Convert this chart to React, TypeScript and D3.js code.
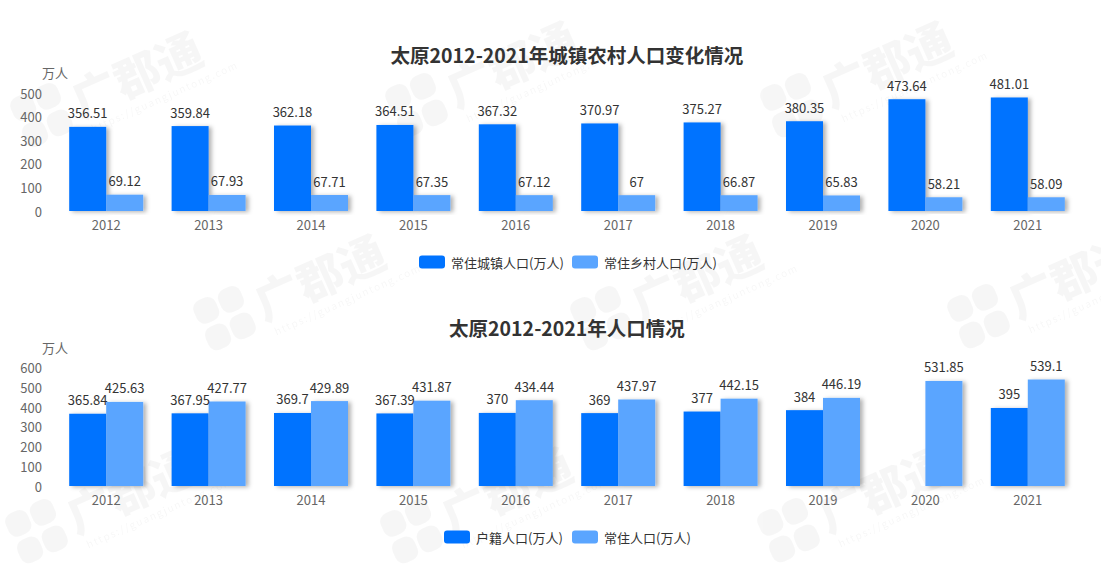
import React from "react";
import * as d3 from "d3";

const years = ["2012", "2013", "2014", "2015", "2016", "2017", "2018", "2019", "2020", "2021"];

const urbanPop = [356.51, 359.84, 362.18, 364.51, 367.32, 370.97, 375.27, 380.35, 473.64, 481.01];
const ruralPop = [69.12, 67.93, 67.71, 67.35, 67.12, 67, 66.87, 65.83, 58.21, 58.09];

const registeredPop: (number | null)[] = [365.84, 367.95, 369.7, 367.39, 370, 369, 377, 384, null, 395];
const residentPop = [425.63, 427.77, 429.89, 431.87, 434.44, 437.97, 442.15, 446.19, 531.85, 539.1];

const topTicks = [0, 100, 200, 300, 400, 500];
const bottomTicks = [0, 100, 200, 300, 400, 500, 600];

const topTitle = "太原2012-2021年城镇农村人口变化情况";
const bottomTitle = "太原2012-2021年人口情况";
const topLegend = ["常住城镇人口(万人)", "常住乡村人口(万人)"];
const bottomLegend = ["户籍人口(万人)", "常住人口(万人)"];
const unitLabel = "万人";

const DARK = "#0073ff";
const LIGHT = "#5aa5ff";
const FONT = "'Noto Sans CJK SC', 'Noto Sans', sans-serif";

const W = 1101;
const H = 568;
const X0 = 55;
const X1 = 1079;

const watermarkAnchors = [
  [30, 152], [405, 142], [780, 142],
  [213, 355], [590, 355], [967, 353],
  [25, 568], [400, 568], [777, 567],
];

function Watermark({ x, y }: { x: number; y: number }) {
  return (
    <g transform={`translate(${x},${y}) rotate(-24)`} fill="#000" opacity={0.03}>
      <rect x={0} y={-56} width={24} height={25} rx={9} />
      <rect x={27} y={-56} width={24} height={25} rx={9} />
      <rect x={0} y={-27} width={24} height={25} rx={9} />
      <rect x={27} y={-27} width={24} height={25} rx={9} />
      <text x={60} y={-10} fontSize={46} fontWeight={900} fontFamily={FONT}>
        广郡通
      </text>
      <text x={66} y={8} fontSize={10} fontFamily={FONT} letterSpacing={1.5}>
        https://guangjuntong.com
      </text>
    </g>
  );
}

type ChartProps = {
  title: string;
  titleY: number;
  y0: number;
  y1: number;
  maxV: number;
  ticks: number[];
  a: (number | null)[];
  b: (number | null)[];
  legend: string[];
  legendY: number;
  legendX: number[];
  unitY: number;
};

function Chart(p: ChartProps) {
  const x = d3.scaleBand<string>().domain(years).range([X0, X1]).padding(0);
  const bw = x.bandwidth();
  const inner = d3.scaleBand<string>().domain(["a", "b"]).range([0, bw]).paddingInner(0).paddingOuter(0.384);
  const y = d3.scaleLinear().domain([0, p.maxV]).range([p.y0, p.y1]);
  const series: { key: string; vals: (number | null)[]; color: string }[] = [
    { key: "a", vals: p.a, color: DARK },
    { key: "b", vals: p.b, color: LIGHT },
  ];
  return (
    <g>
      <text
        x={(X0 + X1) / 2}
        y={p.titleY}
        textAnchor="middle"
        dominantBaseline="central"
        fontSize={19.5}
        fontWeight={700}
        fill="#333"
        fontFamily={FONT}
      >
        {p.title}
      </text>
      <text x={X0} y={p.unitY} textAnchor="middle" dominantBaseline="central" fontSize={13} fill="#666" fontFamily={FONT}>
        {unitLabel}
      </text>
      {p.ticks.map((t) => (
        <text
          key={t}
          x={42}
          y={y(t)}
          textAnchor="end"
          dominantBaseline="central"
          fontSize={13}
          fill="#666"
          fontFamily={FONT}
        >
          {t}
        </text>
      ))}
      {series.map((s) =>
        s.vals.map((v, i) =>
          v == null ? null : (
            <rect
              key={s.key + i}
              x={(x(years[i]) as number) + (inner(s.key) as number)}
              y={y(v)}
              width={inner.bandwidth()}
              height={p.y0 - y(v)}
              fill={s.color}
              filter="url(#barShadow)"
            />
          )
        )
      )}
      {series.map((s) =>
        s.vals.map((v, i) =>
          v == null ? null : (
            <text
              key={"l" + s.key + i}
              x={(x(years[i]) as number) + (inner(s.key) as number) + inner.bandwidth() / 2}
              y={y(v) - 8.5}
              textAnchor="middle"
              fontSize={13}
              fill="#333"
              fontFamily={FONT}
            >
              {String(v)}
            </text>
          )
        )
      )}
      <line x1={X0} x2={X1} y1={p.y0 + 0.5} y2={p.y0 + 0.5} stroke="#6e7079" strokeWidth={1} filter="url(#axisShadow)" />
      {years.map((yr) => (
        <text
          key={yr}
          x={(x(yr) as number) + bw / 2}
          y={p.y0 + 13}
          textAnchor="middle"
          dominantBaseline="central"
          fontSize={13}
          fill="#666"
          fontFamily={FONT}
        >
          {yr}
        </text>
      ))}
      {p.legend.map((l, i) => (
        <g key={l} transform={`translate(${p.legendX[i]},${p.legendY})`}>
          <rect x={0} y={-6.5} width={26} height={13} rx={3} fill={i === 0 ? DARK : LIGHT} />
          <text x={32} y={0} dominantBaseline="central" fontSize={13} fill="#333" fontFamily={FONT}>
            {l}
          </text>
        </g>
      ))}
    </g>
  );
}

export default function App() {
  return (
    <svg
      width={W}
      height={H}
      viewBox={`0 0 ${W} ${H}`}
      style={{ position: "absolute", left: 0, top: 0, background: "#fff" }}
    >
      <defs>
        <filter id="barShadow" x="-20%" y="-20%" width="160%" height="140%">
          <feDropShadow dx={3} dy={1} stdDeviation={2} floodColor="#000" floodOpacity={0.3} />
        </filter>
        <filter id="axisShadow" x="-5%" y="-500%" width="110%" height="1100%">
          <feDropShadow dx={0} dy={2} stdDeviation={2} floodColor="#000" floodOpacity={0.2} />
        </filter>
      </defs>
      <rect x={0} y={0} width={W} height={H} fill="#fff" />
      {watermarkAnchors.map(([wx, wy], i) => (
        <Watermark key={i} x={wx} y={wy} />
      ))}
      <Chart
        title={topTitle}
        titleY={54}
        y0={211}
        y1={93}
        maxV={500}
        ticks={topTicks}
        a={urbanPop}
        b={ruralPop}
        legend={topLegend}
        legendY={262}
        legendX={[419, 572]}
        unitY={72}
      />
      <Chart
        title={bottomTitle}
        titleY={327}
        y0={486}
        y1={367.5}
        maxV={600}
        ticks={bottomTicks}
        a={registeredPop}
        b={residentPop}
        legend={bottomLegend}
        legendY={537}
        legendX={[444, 572]}
        unitY={347}
      />
    </svg>
  );
}
